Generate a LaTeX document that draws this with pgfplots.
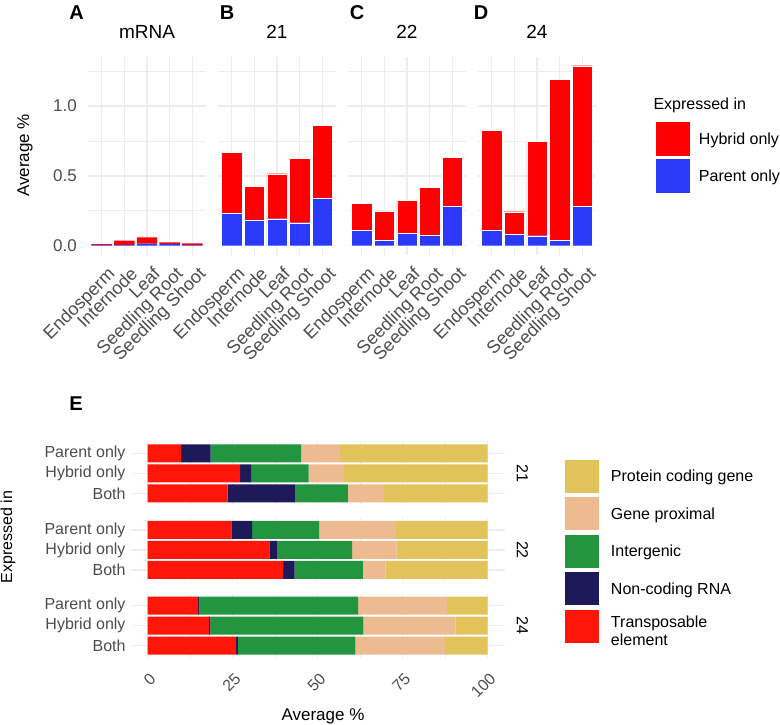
\documentclass[border=0pt]{standalone}
\usepackage{fontspec}
\setmainfont{Liberation Sans}
\usepackage{pgfplots}
\pgfplotsset{compat=1.18}
\definecolor{hyb}{RGB}{255,0,0}
\definecolor{par}{RGB}{42,58,248}
\definecolor{te}{RGB}{255,22,8}
\definecolor{nc}{RGB}{30,26,90}
\definecolor{ig}{RGB}{35,149,63}
\definecolor{gp}{RGB}{237,187,143}
\definecolor{pc}{RGB}{226,194,90}
\definecolor{gridc}{RGB}{237,237,237}
\definecolor{tickc}{RGB}{77,77,77}
\newcommand\tf{\fontsize{16}{18}\selectfont}
\newcommand\tfa{\fontsize{17}{19}\selectfont}
\newcommand\tfb{\fontsize{18}{20}\selectfont}
\newcommand\tfc{\fontsize{19}{21}\selectfont}
\newcommand\lf{\fontsize{20}{22}\selectfont\bfseries}
\pgfplotsset{
  sqlegend/.style={legend image code/.code={\fill[##1,draw=none] (0pt,-#1) rectangle (34pt,#1);}},
  topp/.style={scale only axis, width=118pt, height=198.1pt, anchor=south west,
    xmin=0.4, xmax=5.6, ymin=-0.0645, ymax=1.3535,
    xtick={1,2,3,4,5}, xticklabels={Endosperm,Internode,Leaf,Seedling Root,Seedling Shoot},
    ytick={0,0.5,1}, minor ytick={0.25,0.75,1.25}, yticklabels={},
    grid=both, major grid style={gridc, line width=1.4pt}, minor grid style={gridc, line width=0.7pt},
    axis line style={draw=none}, major tick length=0pt, minor tick length=0pt,
    ybar stacked, bar width=0.9, clip=false,
    xticklabel style={xshift=5pt, yshift=-11pt, rotate=45, anchor=north east, inner sep=0pt, font=\tfb, text=tickc},
    yticklabel style={anchor=east, inner sep=0pt, font=\tfa, text=tickc, xshift=-11pt},
    title style={at={(0.5,1)}, anchor=base, yshift=12pt, font=\tfc, text=black, inner sep=0pt}},
  Ep/.style={scale only axis, width=374pt, height=64pt, anchor=south west,
    xmin=-5, xmax=105, ymin=0.4, ymax=3.6, y dir=reverse,
    ytick={1,2,3}, yticklabels={Parent only,Hybrid only,Both},
    xtick={0,25,50,75,100}, minor xtick={12.5,37.5,62.5,87.5}, xticklabels={},
    grid=both, major grid style={gridc, line width=1.4pt}, minor grid style={gridc, line width=0.7pt},
    axis line style={draw=none}, major tick length=0pt, minor tick length=0pt,
    xbar stacked, bar width=0.9, clip=false,
    xticklabel style={xshift=1pt, yshift=-14pt, rotate=45, anchor=north east, inner sep=0pt, font=\tf, text=tickc},
    yticklabel style={anchor=east, inner sep=0pt, font=\tf, text=tickc, xshift=-5pt}},
  tb/.style={draw=white, line width=0.2pt},
}
\begin{document}
\begin{tikzpicture}
\useasboundingbox (0pt,0pt) rectangle (780pt,725pt);
% ---------- A
\begin{axis}[topp, at={(88pt,470.3pt)}, title={mRNA}, yticklabels={0.0,0.5,1.0}]
\addplot[fill=par, draw=none] coordinates {(1,0.005) (2,0.006) (3,0.015) (4,0.013) (5,0.004)};
\addplot[fill=hyb, draw=none] coordinates {(1,0.007) (2,0.030) (3,0.045) (4,0.011) (5,0.013)};
\end{axis}
% ---------- B
\begin{axis}[topp, at={(218pt,470.3pt)}, title={21}]
\addplot[fill=par, tb] coordinates {(1,0.230) (2,0.184) (3,0.193) (4,0.165) (5,0.339)};
\addplot[fill=hyb, tb] coordinates {(1,0.440) (2,0.243) (3,0.322) (4,0.460) (5,0.523)};
\end{axis}
% ---------- C
\begin{axis}[topp, at={(348pt,470.3pt)}, title={22}]
\addplot[fill=par, tb] coordinates {(1,0.112) (2,0.040) (3,0.088) (4,0.074) (5,0.282)};
\addplot[fill=hyb, tb] coordinates {(1,0.193) (2,0.206) (3,0.237) (4,0.344) (5,0.350)};
\end{axis}
% ---------- D
\begin{axis}[topp, at={(478pt,470.3pt)}, title={24}, reverse legend, legend cell align=left,
  legend style={at={(1.5085,0.670)}, anchor=north west, draw=none, fill=none, inner sep=0pt, outer sep=0pt,
    row sep=3pt, column sep=9pt, nodes={inner sep=0pt, font=\tf, text=black}}]
\addplot[fill=par, tb, sqlegend=17pt] coordinates {(1,0.112) (2,0.083) (3,0.072) (4,0.040) (5,0.282)};
\addlegendentry{Parent only}
\addplot[fill=hyb, tb, sqlegend=17pt] coordinates {(1,0.716) (2,0.160) (3,0.675) (4,1.151) (5,1.007)};
\addlegendentry{Hybrid only}
\end{axis}
% ---------- E : 21
\begin{axis}[Ep, at={(130.7pt,219.7pt)}, reverse legend, legend cell align=left,
  legend style={at={(1.1612,0.7078)}, anchor=north west, draw=none, fill=none, inner sep=0pt, outer sep=0pt,
    row sep=4.5pt, column sep=12pt, nodes={inner sep=0pt, font=\tf, text=black}}]
\addplot[fill=te, draw=none, sqlegend=16.5pt] coordinates {(9.8,1) (27.2,2) (23.5,3)};
\addlegendentry{\begin{tabular}{@{}l@{}}Transposable\\element\end{tabular}}
\addplot[fill=nc, draw=none, sqlegend=16.5pt] coordinates {(8.7,1) (3.2,2) (19.8,3)};
\addlegendentry{Non-coding RNA}
\addplot[fill=ig, draw=none, sqlegend=16.5pt] coordinates {(26.6,1) (16.9,2) (15.6,3)};
\addlegendentry{Intergenic}
\addplot[fill=gp, draw=none, sqlegend=16.5pt] coordinates {(11.5,1) (10.4,2) (10.6,3)};
\addlegendentry{Gene proximal}
\addplot[fill=pc, draw=none, sqlegend=16.5pt] coordinates {(43.4,1) (42.3,2) (30.5,3)};
\addlegendentry{Protein coding gene}
\node[rotate=-90, font=\tf, text=black] at (axis description cs:1.0476,0.5) {21};
\end{axis}
% ---------- E : 22
\begin{axis}[Ep, at={(130.7pt,143pt)}]
\addplot[fill=te, draw=none] coordinates {(24.6,1) (35.8,2) (39.8,3)};
\addplot[fill=nc, draw=none] coordinates {(6.1,1) (2.2,2) (3.4,3)};
\addplot[fill=ig, draw=none] coordinates {(19.7,1) (22.1,2) (20.1,3)};
\addplot[fill=gp, draw=none] coordinates {(22.6,1) (13.1,2) (6.6,3)};
\addplot[fill=pc, draw=none] coordinates {(27.0,1) (26.8,2) (30.1,3)};
\node[rotate=-90, font=\tf, text=black] at (axis description cs:1.0476,0.5) {22};
\end{axis}
% ---------- E : 24
\begin{axis}[Ep, at={(130.7pt,67.3pt)}, xticklabels={0,25,50,75,100}]
\addplot[fill=te, draw=none] coordinates {(14.8,1) (18.1,2) (26.0,3)};
\addplot[fill=nc, draw=none] coordinates {(0.4,1) (0.3,2) (0.5,3)};
\addplot[fill=ig, draw=none] coordinates {(46.7,1) (45.0,2) (34.6,3)};
\addplot[fill=gp, draw=none] coordinates {(26.2,1) (27.2,2) (26.4,3)};
\addplot[fill=pc, draw=none] coordinates {(11.9,1) (9.4,2) (12.5,3)};
\node[rotate=-90, font=\tf, text=black] at (axis description cs:1.0476,0.5) {24};
\end{axis}
% ---------- texts
\node[font=\lf, anchor=base, inner sep=0pt] at (76.7pt,705.7pt) {A};
\node[font=\lf, anchor=base, inner sep=0pt] at (227pt,705.7pt) {B};
\node[font=\lf, anchor=base, inner sep=0pt] at (357pt,705.7pt) {C};
\node[font=\lf, anchor=base, inner sep=0pt] at (481pt,705.7pt) {D};
\node[font=\lf, anchor=base, inner sep=0pt] at (76pt,314pt) {E};
\node[font=\tfa, rotate=90, inner sep=0pt] at (25pt,569.5pt) {Average \%};
\node[font=\tfa, inner sep=0pt] at (323pt,9pt) {Average \%};
\node[font=\tf, rotate=90, inner sep=0pt] at (8pt,188pt) {Expressed in};
\node[font=\tf, anchor=base west, inner sep=0pt] at (653.3pt,615.3pt) {Expressed in};
\end{tikzpicture}
\end{document}
